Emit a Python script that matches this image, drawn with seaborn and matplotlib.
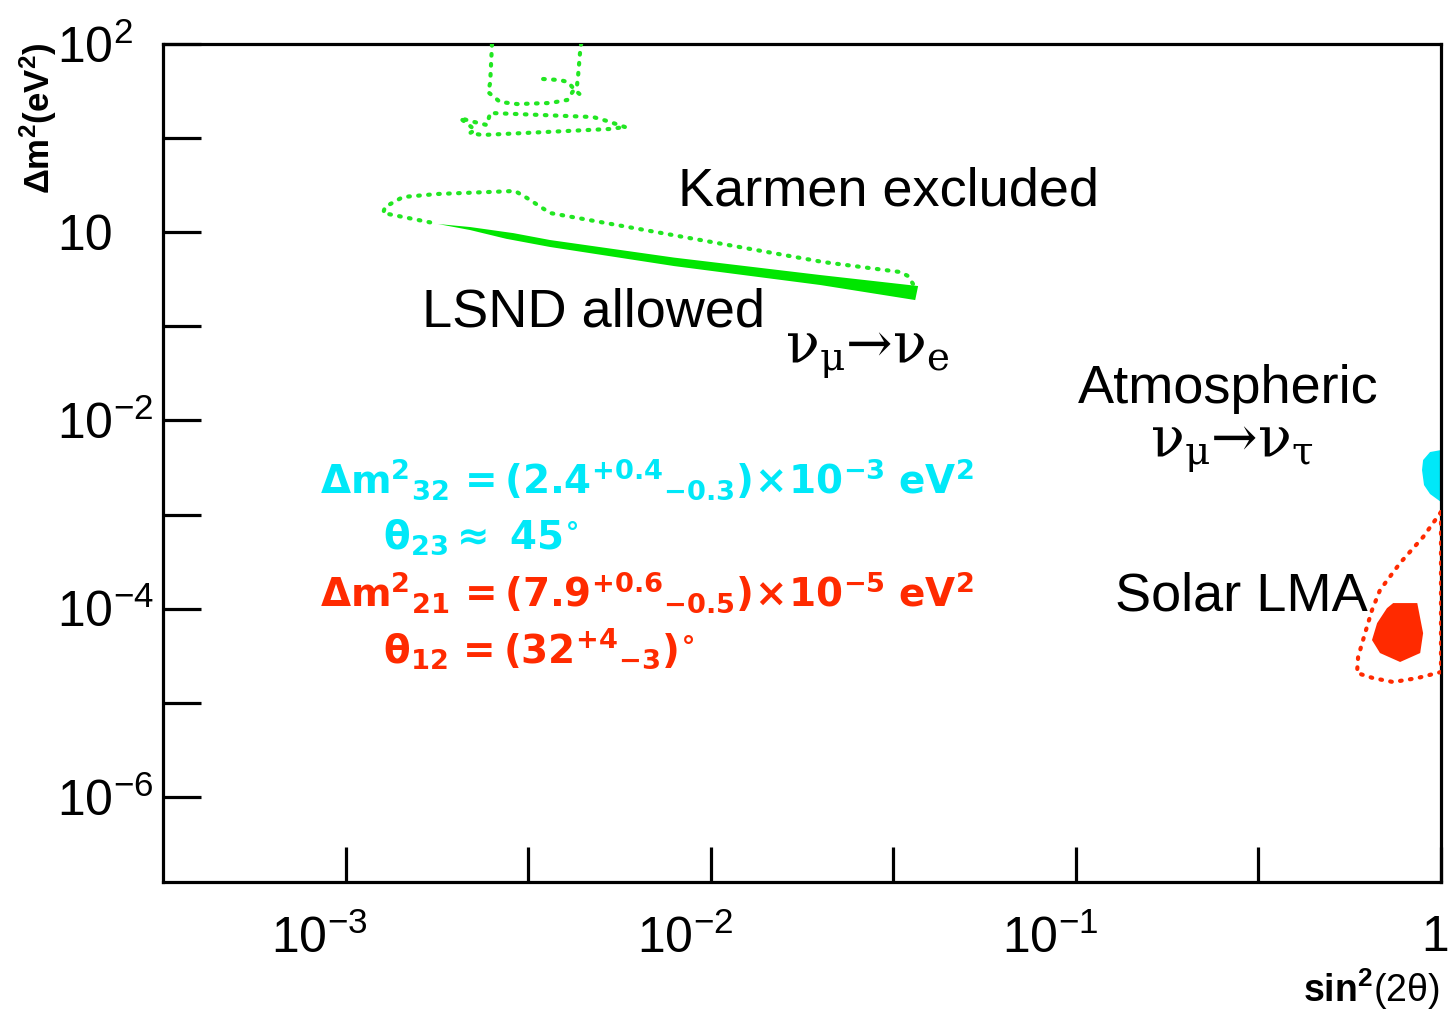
import numpy as np
import matplotlib
matplotlib.use("Agg")
import matplotlib.pyplot as plt
import matplotlib.transforms as mtransforms
from matplotlib.ticker import FixedLocator, FixedFormatter, NullLocator
import seaborn as sns

# All shapes given as log10 values
# x = log10 sin^2(2theta), y = log10 delta m^2 (eV^2)

# LSND allowed band (filled)
lsnd_x = [-2.747, -2.659, -2.540, -2.440, -2.100, -1.700, -1.432, -1.440, -1.700, -2.100, -2.440, -2.560, -2.659]
lsnd_y = [0.087, 0.055, -0.010, -0.083, -0.270, -0.455, -0.572, -0.721, -0.561, -0.360, -0.157, -0.070, 0.023]

# Karmen exclusion contours (dotted)
karmen_x = [-1.446, -1.460, -1.481, -1.692, -2.440, -2.503, -2.536, -2.750, -2.843, -2.892, -2.897, -2.760]
karmen_y = [-0.550, -0.465, -0.423, -0.317, 0.204, 0.363, 0.438, 0.406, 0.374, 0.268, 0.204, 0.098]
karmen_u_x = [-2.599, -2.604, -2.610, -2.577, -2.530, -2.440, -2.393, -2.366, -2.363, -2.358, -2.355]
karmen_u_y = [2.0, 1.586, 1.490, 1.384, 1.362, 1.373, 1.405, 1.564, 1.671, 1.904, 2.0]
karmen_in_x = [-2.459, -2.413, -2.391, -2.372, -2.350]
karmen_in_y = [1.628, 1.617, 1.596, 1.511, 1.437]
karmen_loop_x = [-2.235, -2.284, -2.322, -2.604, -2.613, -2.659, -2.687, -2.645, -2.659, -2.626, -2.276, -2.235]
karmen_loop_y = [1.118, 1.182, 1.224, 1.267, 1.139, 1.182, 1.214, 1.086, 1.054, 1.033, 1.097, 1.118]

# Atmospheric region (filled, cyan)
atm_x = [0.0, -0.030, -0.049, -0.052, -0.0465, -0.030, 0.0]
atm_y = [-2.315, -2.336, -2.421, -2.527, -2.687, -2.782, -2.867]

# Solar LMA: outer contour (dotted) and best region (filled)
sol_out_x = [0.0, -0.049, -0.112, -0.167, -0.189, -0.208, -0.227, -0.230, -0.186, -0.131, -0.065, 0.0, 0.0]
sol_out_y = [-2.973, -3.239, -3.515, -3.802, -4.016, -4.261, -4.514, -4.684, -4.738, -4.780, -4.738, -4.674, -2.973]
sol_x = [-0.131, -0.065, -0.049, -0.057, -0.112, -0.167, -0.189, -0.175, -0.148]
sol_y = [-3.941, -3.941, -4.261, -4.472, -4.567, -4.472, -4.334, -4.154, -3.995]

x_ticks = [-3, -2.5, -2, -1.5, -1, -0.5, 0]
x_labels = ["$10^{-3}$", "", "$10^{-2}$", "", "$10^{-1}$", "", "1"]
y_ticks = [-6, -5, -4, -3, -2, -1, 0, 1, 2]
y_labels = ["$10^{-6}$", "", "$10^{-4}$", "", "$10^{-2}$", "", "10", "", "$10^{2}$"]

GREEN = "#00e600"
GREEN_DOT = "#22e622"
CYAN = "#00e8f8"
RED = "#ff2a00"


def pw(v):
    return np.power(10.0, np.asarray(v, dtype=float))


sns.set_theme(style="ticks")
plt.rcParams["font.family"] = ["Liberation Sans", "DejaVu Sans"]
plt.rcParams["mathtext.fontset"] = "custom"
plt.rcParams["mathtext.rm"] = "Liberation Sans"
plt.rcParams["mathtext.it"] = "Liberation Sans:italic"
plt.rcParams["mathtext.bf"] = "Liberation Sans:bold"
plt.rcParams["mathtext.sf"] = "Liberation Sans"

fig = plt.figure(figsize=(14.51, 10.16), dpi=100)
ax = fig.add_axes([163 / 1451, 1 - 882 / 1016, 1278 / 1451, 838 / 1016])
ax.set_xscale("log")
ax.set_yscale("log")
ax.set_xlim(pw(-3.5), 1.0)
ax.set_ylim(pw(-6.905), 100.0)

dots = dict(sort=False, estimator=None, lw=3.0, linestyle=(0, (0.4, 2.0)),
            dash_capstyle="round", legend=False, ax=ax)

ax.fill(pw(lsnd_x), pw(lsnd_y), color=GREEN, lw=0)
for xs, ys in [(karmen_x, karmen_y), (karmen_u_x, karmen_u_y),
               (karmen_in_x, karmen_in_y), (karmen_loop_x, karmen_loop_y)]:
    sns.lineplot(x=pw(xs), y=pw(ys), color=GREEN_DOT, **dots)

ax.fill(pw(atm_x), pw(atm_y), color=CYAN, lw=0)
ax.fill(pw(sol_x), pw(sol_y), color=RED, lw=0)
sns.lineplot(x=pw(sol_out_x), y=pw(sol_out_y), color=RED, **dots)

# axes / ticks
for s in ax.spines.values():
    s.set_linewidth(2.3)
    s.set_color("black")
    s.set_zorder(1)
ax.xaxis.set_major_locator(FixedLocator(pw(x_ticks)))
ax.xaxis.set_major_formatter(FixedFormatter(x_labels))
ax.yaxis.set_major_locator(FixedLocator(pw(y_ticks)))
ax.yaxis.set_major_formatter(FixedFormatter(y_labels))
ax.xaxis.set_minor_locator(NullLocator())
ax.yaxis.set_minor_locator(NullLocator())
ax.tick_params(axis="x", direction="in", length=25, width=2.3, labelsize=36, pad=24, colors="black")
ax.tick_params(axis="y", direction="in", length=27, width=2.3, labelsize=36, pad=76, colors="black")
for lbl in ax.get_yticklabels():
    lbl.set_horizontalalignment("left")
shift = mtransforms.ScaledTranslation(-26 / 100, 0, fig.dpi_scale_trans)
shift_one = mtransforms.ScaledTranslation(-6 / 100, 0, fig.dpi_scale_trans)
for lbl in ax.get_xticklabels():
    if lbl.get_text().startswith("$10"):
        lbl.set_transform(lbl.get_transform() + shift)
    elif lbl.get_text() == "1":
        lbl.set_transform(lbl.get_transform() + shift_one)

# labels in the plot
ax.text(pw(-2.089), pw(0.289), "Karmen excluded", fontsize=39, color="black")
ax.text(pw(-2.791), pw(-1.007), "LSND allowed", fontsize=39, color="black")
ax.text(pw(-0.994), pw(-1.815), "Atmospheric", fontsize=39, color="black")
ax.text(pw(-0.893), pw(-4.015), "Solar LMA", fontsize=39, color="black")
ax.text(pw(-1.796), pw(-1.379), r"$\mathrm{ν_{μ}→ν_{e}}$",
        fontsize=40, color="black", math_fontfamily="dejavuserif")
ax.text(pw(-0.797), pw(-2.378), r"$\mathrm{ν_{μ}→ν_{τ}}$",
        fontsize=40, color="black", math_fontfamily="dejavuserif")

ax.text(pw(-3.070), pw(-2.782),
        r"$\mathbf{\Delta m^{2}{}_{32}\,{=}(2.4^{+0.4}{}_{-0.3})\!\times\!10^{-3}\ eV^{2}}$",
        fontsize=28, color=CYAN, math_fontfamily="dejavusans")
ax.text(pw(-2.897), pw(-3.367), r"$\mathbf{\theta_{23}\approx\ 45^{\circ}}$",
        fontsize=28, color=CYAN, math_fontfamily="dejavusans")
ax.text(pw(-3.070), pw(-3.983),
        r"$\mathbf{\Delta m^{2}{}_{21}\,{=}(7.9^{+0.6}{}_{-0.5})\!\times\!10^{-5}\ eV^{2}}$",
        fontsize=28, color=RED, math_fontfamily="dejavusans")
ax.text(pw(-2.897), pw(-4.578), r"$\mathbf{\theta_{12}\,{=}(32^{+4}{}_{-3})^{\circ}}$",
        fontsize=28, color=RED, math_fontfamily="dejavusans")

# axis titles
fig.text(38 / 1451, 1 - 118 / 1016, r"$\mathbf{\Delta m^{2}(eV^{2})}$", rotation=90,
         ha="center", va="center", fontsize=25, color="black")
fig.text(1440 / 1451, 1 - 1012 / 1016, r"$\mathbf{sin^{2}}$(2θ)",
         ha="right", va="bottom", fontsize=27, color="black")

fig.savefig("out.png", dpi=100)
